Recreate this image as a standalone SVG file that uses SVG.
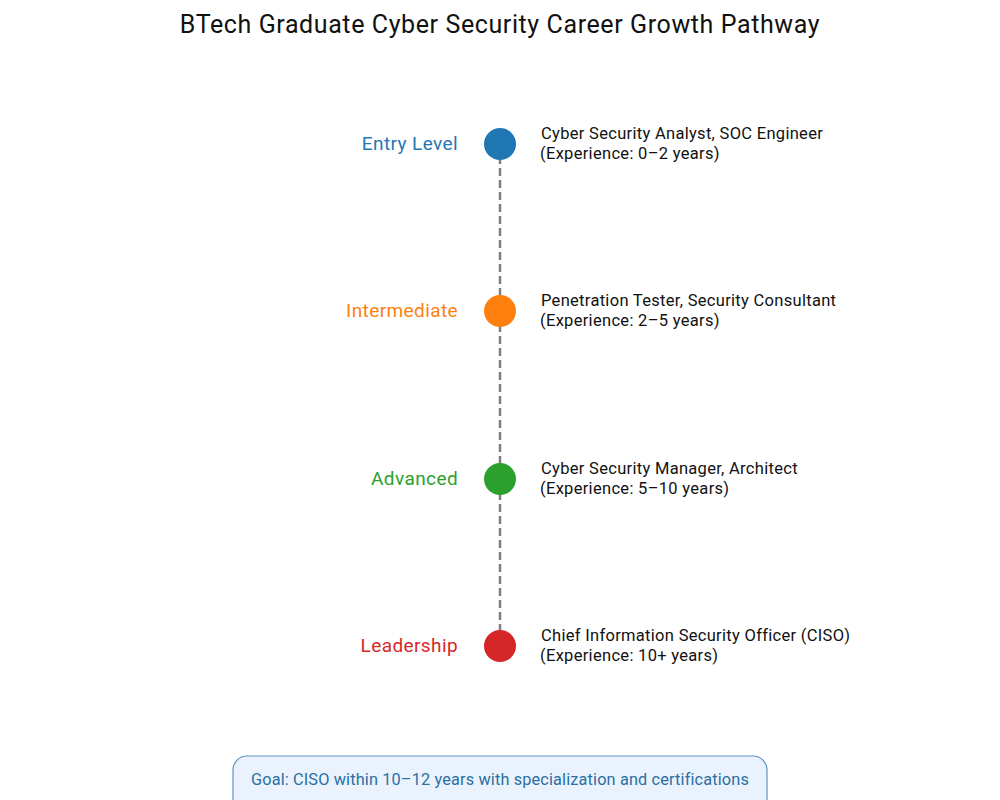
<svg xmlns="http://www.w3.org/2000/svg" width="1000" height="800" viewBox="0 0 1000 800">
<style>
text { font-family: Roboto, "Noto Sans", "Liberation Sans", sans-serif; }
.title { font-size: 25px; letter-spacing: 0.6px; fill: #111; text-anchor: middle; }
.lvl { font-size: 19px; letter-spacing: 0.4px; text-anchor: end; }
.desc { font-size: 16.5px; letter-spacing: 0.3px; fill: #111; }
.goal { font-size: 16.3px; letter-spacing: 0.15px; fill: #2a6fa3; text-anchor: middle; }
.conn { stroke: #7f7f7f; stroke-width: 2.5; stroke-dasharray: 8 4; fill: none; }
</style>
<rect width="1000" height="800" fill="#ffffff"/>
<text class="title" x="500" y="33">BTech Graduate Cyber Security Career Growth Pathway</text>
<g id="connectors">
<line class="conn" x1="500" y1="144" x2="500" y2="646"/>
</g>
<g id="entry">
<circle cx="500" cy="144" r="16" fill="#1f77b4"/>
<text class="lvl" x="458" y="150" fill="#1f77b4">Entry Level</text>
<text class="desc" x="541" y="139">Cyber Security Analyst, SOC Engineer</text>
<text class="desc" x="540" y="159">(Experience: 0–2 years)</text>
</g>
<g id="intermediate">
<circle cx="500" cy="311" r="16" fill="#ff7f0e"/>
<text class="lvl" x="458" y="317" fill="#ff7f0e">Intermediate</text>
<text class="desc" x="541" y="306">Penetration Tester, Security Consultant</text>
<text class="desc" x="540" y="326">(Experience: 2–5 years)</text>
</g>
<g id="advanced">
<circle cx="500" cy="479" r="16" fill="#2ca02c"/>
<text class="lvl" x="458" y="485" fill="#2ca02c">Advanced</text>
<text class="desc" x="541" y="474">Cyber Security Manager, Architect</text>
<text class="desc" x="540" y="494">(Experience: 5–10 years)</text>
</g>
<g id="leadership">
<circle cx="500" cy="646" r="16" fill="#d62728"/>
<text class="lvl" x="458" y="652" fill="#d62728">Leadership</text>
<text class="desc" x="541" y="641">Chief Information Security Officer (CISO)</text>
<text class="desc" x="540" y="661">(Experience: 10+ years)</text>
</g>
<g id="goal">
<rect x="233" y="756" width="534" height="60" rx="14" fill="#eaf3fd" stroke="#5b93c2" stroke-width="1.2"/>
<text class="goal" x="500" y="785">Goal: CISO within 10–12 years with specialization and certifications</text>
</g>
</svg>
